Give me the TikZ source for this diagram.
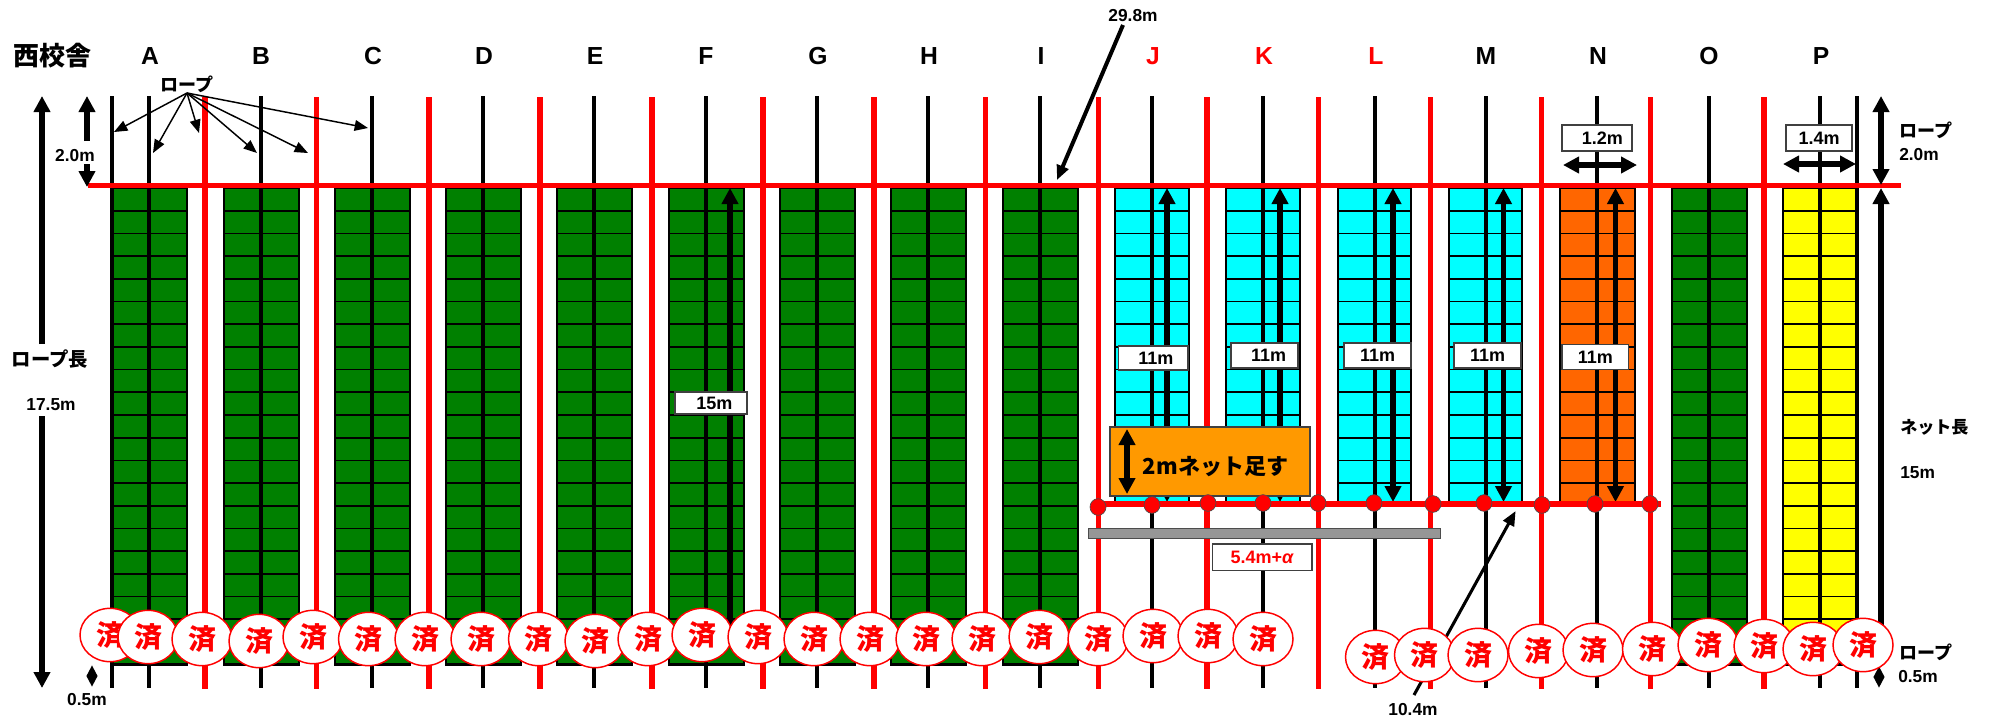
\documentclass[tikz,border=0pt]{standalone}
\usepackage{fontspec}
\setmainfont{Liberation Sans}
\newfontfamily\jpf{Noto Sans CJK JP}
\usetikzlibrary{arrows.meta,shapes.geometric}
\definecolor{netgreen}{HTML}{008000}
\definecolor{netcyan}{HTML}{00FFFF}
\definecolor{netorange}{HTML}{FF6600}
\definecolor{boxorange}{HTML}{FF9900}
\definecolor{netyellow}{HTML}{FFFF00}
\definecolor{pure}{HTML}{FF0000}
\definecolor{bargray}{HTML}{969696}
\newcommand{\fpx}[1]{\fontsize{#1}{#1}\selectfont\bfseries}
\newcommand{\mynet}[5]{%
  \fill[#5] (#1,188) rectangle (#2,#4);
  \foreach \k in {1,...,#3} \draw[rowline] (#1,{188+22.7*\k}) -- (#2,{188+22.7*\k});
  \draw[netedge] (#1,188) rectangle (#2,#4);}
\tikzset{
  x=0.75pt,y=-0.75pt,
  rowline/.style={black,line width=1.3pt},
  netedge/.style={black,line width=2pt},
  blackrope/.style={black,line width=3pt},
  redrope/.style={pure,line width=3.9pt},
  bigarrow/.style={black,line width=4.5pt,-{Triangle[width=12pt,length=12pt]}},
  bigboth/.style={black,line width=4pt,{Triangle[width=12pt,length=12pt]}-{Triangle[width=12pt,length=12pt]}},
  thinarrow/.style={black,line width=1.1pt,-{Triangle[width=8pt,length=10pt]}},
  leader/.style={black,line width=#1,-{Triangle[width=9pt,length=11pt]}},
  letter/.style={font=\fpx{18.5},inner sep=0pt},
  lbl/.style={font=\fpx{13},inner sep=0pt},
  jplbl/.style={font=\jpf\fpx{13.5},inner sep=0pt},
  valbox/.style={draw=black!75,line width=1.1pt,fill=white,inner sep=0pt,font=\fpx{13.5}},
  done/.style={ellipse,draw=pure,line width=1.1pt,fill=white,inner sep=0pt,minimum width=45pt,minimum height=40pt,text=pure,font=\jpf\fpx{21}},
  dot/.style={ellipse,draw=black!70,line width=0.5pt,fill=pure,inner sep=0pt,minimum width=12pt,minimum height=12.5pt},
  tick/.style={diamond,fill=black,inner sep=0pt,minimum width=8.5pt,minimum height=16pt},
}
\begin{document}
\begin{tikzpicture}
\useasboundingbox (0,0) rectangle (1991,722);
% nets
\foreach \a/\b in {112/187,224/299,335/410,446/521,557/632,669/744,780/855,891/966,1003/1078,1672/1747}
  {\mynet{\a}{\b}{20}{664.8}{netgreen}}
\mynet{1783}{1857}{20}{664.8}{netyellow}
\foreach \a/\b in {1115/1189,1226/1300,1338/1411,1449/1522}
  {\mynet{\a}{\b}{13}{502}{netcyan}}
\mynet{1560}{1635}{13}{502}{netorange}
% black ropes
\foreach \x [count=\n] in {112,149,261,372,483,594,706,817,928,1040,1152,1263,1375,1486,1597,1709,1820,1857}{
  \coordinate (bt\n) at (\x,96); \coordinate (bb\n) at (\x,688);
  \draw[blackrope] (bt\n) -- (bb\n);}
% length arrows inside nets
\coordinate (f15t) at (730,188); \coordinate (f15b) at (730,628);
\draw[bigarrow] (f15b) -- (f15t);
\foreach \x [count=\n] in {1167,1280,1393,1503.5,1615.5}{
  \coordinate (at\n) at (\x,188); \coordinate (ab\n) at (\x,502);
  \draw[bigboth] (at\n) -- (ab\n);}
% red ropes
\foreach \x [count=\n] in {205,316.5,429,540,652,763,874,985.5,1098.5,1207,1318.7,1430.5,1541.7,1650.5,1764}{
  \coordinate (rt\n) at (\x,97); \coordinate (rb\n) at (\x,688.5);
  \draw[redrope] (rt\n) -- (rb\n);}
\coordinate (hl) at (88,185.5); \coordinate (hr) at (1901,185.5);
\draw[redrope,line width=4.2pt] (hl) -- (hr);
% column letters
\node[font=\jpf\fpx{19.5},inner sep=0pt] (school) at (52,56) {西校舎};
\foreach \x/\l in {150/A,261/B,373/C,484/D,595/E,706/F,818/G,929/H,1041/I,1486/M,1598/N,1709/O,1821/P}
  \node[letter] (col\l) at (\x,56) {\l};
\foreach \x/\l in {1153/J,1264/K,1376/L}
  \node[letter,text=pure] (col\l) at (\x,56) {\l};
% rope label and its thin arrows
\node[jplbl] (rope) at (187,84) {ロープ};
\coordinate (ro) at (187,93);
\foreach \x/\y [count=\n] in {114/132,153/153,199/133,257/153,308/153,368/128}{
  \coordinate (rp\n) at (\x,\y);
  \draw[thinarrow] (ro) -- (rp\n);}
% left dimension
\coordinate (lat) at (42,96); \coordinate (lab) at (42,344);
\coordinate (lbt) at (42,416); \coordinate (lbb) at (42,688);
\draw[bigarrow] (lab) -- (lat);
\draw[bigarrow] (lbt) -- (lbb);
\node[jplbl,font=\jpf\fpx{14.5}] (leftlen) at (50,359) {ロープ長};
\node[lbl] (leftval) at (51,405) {17.5m};
\coordinate (tat) at (87,96); \coordinate (tab) at (87,141);
\coordinate (tbt) at (87,164); \coordinate (tbb) at (87,187);
\draw[bigarrow] (tab) -- (tat);
\draw[bigarrow] (tbt) -- (tbb);
\node[lbl] (left2) at (75,155.5) {2.0m};
\node[tick] (ltick) at (92,676) {};
\node[lbl] (left05) at (87,700) {0.5m};
% right dimension
\coordinate (rat) at (1881,96); \coordinate (rab) at (1881,185);
\draw[bigboth] (rat) -- (rab);
\coordinate (rct) at (1881,188); \coordinate (rcb) at (1881,665);
\draw[bigarrow] (rcb) -- (rct);
\node[tick] (rtick) at (1879,677) {};
\node[jplbl,anchor=west] (rr1) at (1899,130) {ロープ};
\node[lbl,anchor=west] (rr2) at (1899,155) {2.0m};
\node[jplbl,font=\jpf\fpx{12.8},anchor=west] (rn1) at (1900,427) {ネット長};
\node[lbl,anchor=west] (rn2) at (1900,473) {15m};
\node[jplbl,anchor=west] (rb1) at (1899,652) {ロープ};
\node[lbl,anchor=west] (rb2) at (1898,677) {0.5m};
% width arrows
\coordinate (wnl) at (1563,165); \coordinate (wnr) at (1637,165);
\draw[bigboth] (wnl) -- (wnr);
\coordinate (wpl) at (1783,164); \coordinate (wpr) at (1856,164);
\draw[bigboth] (wpl) -- (wpr);
\node[valbox,minimum width=52.5pt,minimum height=19.5pt] (w12) at (1597,138) {\hspace*{8pt}1.2m};
\node[valbox,minimum width=49.5pt,minimum height=19.5pt] (w14) at (1819,138) {1.4m};
% value boxes
\node[valbox,minimum width=54pt,minimum height=16.5pt] (v15) at (711,403) {\hspace*{5pt}15m};
\node[valbox,minimum width=52pt,minimum height=18pt] (v1) at (1153.3,358) {\hspace*{4pt}11m};
\node[valbox,minimum width=50pt,minimum height=18.5pt] (v2) at (1264.5,355.5) {\hspace*{6pt}11m};
\node[valbox,minimum width=50pt,minimum height=18.5pt] (v3) at (1377.5,355.5) {11m};
\node[valbox,minimum width=50pt,minimum height=18.5pt] (v4) at (1487.5,355.5) {11m};
\node[valbox,minimum width=50pt,minimum height=18.5pt] (v5) at (1595.3,357) {11m};
% orange box
\node[draw=black!75,line width=1pt,fill=boxorange,minimum width=150pt,minimum height=51.7pt,inner sep=0pt] (addbox) at (1210,461.5) {};
\node[font=\jpf\fpx{16.5},inner sep=0pt] (addtxt) at (1215.5,467) {2mネット足す};
\coordinate (aa) at (1127,429); \coordinate (ab) at (1127,494);
\draw[bigboth] (aa) -- (ab);
% bottom red rope with its posts
\coordinate (bl) at (1098,504); \coordinate (br) at (1661,504);
\draw[redrope] (bl) -- (br);
\foreach \x/\y [count=\n] in {1098/507,1152/505,1208/503,1263/503,1318/503,1374/503,1433/504,1484/503,1542/505,1595/504,1650/504}
  \node[dot] (post\n) at (\x,\y) {};
% gray bar and its label
\node[draw=black!70,line width=0.8pt,fill=bargray,minimum width=264pt,minimum height=8pt,inner sep=0pt] (bar) at (1264.3,533.5) {};
\node[valbox,text=pure,minimum width=74.5pt,minimum height=20pt,font=\fpx{13.5}] (alpha) at (1262.2,557.2) {5.4m+\textit{α}};
% leaders
\node[lbl] (l298) at (1133,16) {29.8m};
\coordinate (l298s) at (1123,25); \coordinate (l298e) at (1057,180);
\draw[leader=3pt] (l298s) -- (l298e);
\node[lbl] (l104) at (1413,710) {10.4m};
\coordinate (l104s) at (1414,695); \coordinate (l104e) at (1515.6,511);
\draw[leader=2.3pt] (l104s) -- (l104e);
% done stamps
\foreach \x/\y [count=\n] in {110/635,148/637,202/639,259/641,313/637,368.5/639,425/639,481/639,538.5/639,595/641,648/639,702/635,758/637,814/639,870/639,926/639,982/639,1039/637,1098/639,1153/636,1208/636,1263/639,1375.5/657,1424.5/655,1478/655,1538.5/651,1593/650,1652.5/649,1708/645,1764/646,1813/649,1863/645}
  \node[done] (stamp\n) at (\x,\y) {済};
\end{tikzpicture}
\end{document}
